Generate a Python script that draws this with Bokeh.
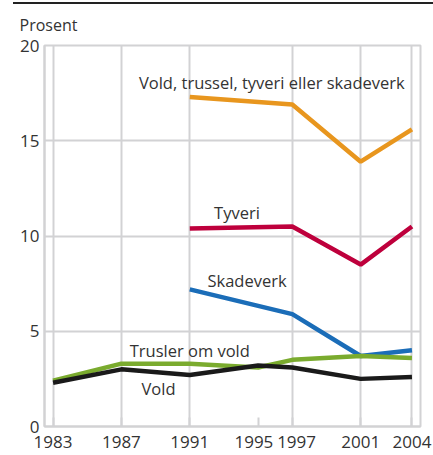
from bokeh.plotting import figure
from bokeh.models import Label, FixedTicker
from bokeh.embed import file_html
from bokeh.resources import INLINE

# ---- data ----
years_all = [1983, 1987, 1991, 1995, 1997, 2001, 2004]
years_late = [1991, 1997, 2001, 2004]

total = [17.3, 16.9, 13.9, 15.6]          # Vold, trussel, tyveri eller skadeverk
tyveri = [10.4, 10.5, 8.5, 10.5]
skadeverk = [7.2, 5.9, 3.7, 4.0]
trusler = [2.4, 3.3, 3.3, 3.1, 3.5, 3.7, 3.6]
vold = [2.3, 3.0, 2.7, 3.2, 3.1, 2.5, 2.6]

x_ticks = [1983, 1987, 1991, 1995, 1997, 2001, 2004]
x_tick_labels = ["1983", "1987", "1991", "1995\u2002", "\u20021997", "2001", "2004"]
x_grid = [1983, 1987, 1991, 1997, 2001, 2004]
y_ticks = [0, 5, 10, 15, 20]

labels = ["Vold, trussel, tyveri eller skadeverk", "Tyveri", "Skadeverk", "Trusler om vold", "Vold"]
label_x = [1995.8, 1993.76, 1994.35, 1991.0, 1989.17]
label_y = [18.07, 11.23, 7.68, 3.97, 1.98]

FONT = "Open Sans"
TXT = "#333333"
GRID = "#d2d2d4"

p = figure(width=433, height=455, x_range=(1982.5, 2004.5), y_range=(0, 20),
           output_backend="svg", toolbar_location=None,
           min_border_left=44, min_border_right=13, min_border_top=45, min_border_bottom=27)

# dark rule at the very top of the page, drawn behind a transparent border
p.border_fill_color = None
p.styles = {"background-image": "linear-gradient(#222222, #222222)",
            "background-size": "420px 2px",
            "background-position": "13px 2px",
            "background-repeat": "no-repeat"}

p.title.text = "Prosent"
p.title.align = "left"
p.title.offset = -25
p.title.text_font = FONT
p.title.text_font_size = "16px"
p.title.text_font_style = "normal"
p.title.text_color = TXT
p.title.standoff = 20

p.outline_line_color = GRID
p.outline_line_width = 2
p.background_fill_color = "white"

p.xgrid.ticker = FixedTicker(ticks=x_grid)
p.ygrid.ticker = FixedTicker(ticks=y_ticks)
p.xgrid.grid_line_color = GRID
p.ygrid.grid_line_color = GRID
p.xgrid.grid_line_width = 2
p.ygrid.grid_line_width = 2

p.xaxis.ticker = FixedTicker(ticks=x_ticks)
p.xaxis.major_label_overrides = dict(zip(x_ticks, x_tick_labels))
p.yaxis.ticker = FixedTicker(ticks=y_ticks)
for ax in (p.xaxis, p.yaxis):
    ax.axis_line_color = GRID
    ax.axis_line_width = 2
    ax.major_tick_line_color = GRID
    ax.major_tick_line_width = 2
    ax.minor_tick_line_color = None
    ax.major_label_text_font = FONT
    ax.major_label_text_font_size = "17px"
    ax.major_label_text_color = TXT
p.xaxis.major_tick_in = 9
p.xaxis.major_tick_out = 0
p.yaxis.major_tick_in = 0
p.yaxis.major_tick_out = 0
p.xaxis.major_label_standoff = 3
p.yaxis.major_label_standoff = 5

LW = 4.5
p.line(years_late, total, color="#e8961e", line_width=LW)
p.line(years_late, tyveri, color="#be003c", line_width=LW)
p.line(years_late, skadeverk, color="#1b6db8", line_width=LW)
p.line(years_all, trusler, color="#7aab2e", line_width=LW)
p.line(years_all, vold, color="#1a1a1a", line_width=LW)

for t, lx, ly in zip(labels, label_x, label_y):
    p.add_layout(Label(x=lx, y=ly, text=t, text_align="center", text_baseline="middle",
                       text_font=FONT, text_font_size="16.5px", text_color=TXT))

open("out.html", "w").write(file_html(p, INLINE))
